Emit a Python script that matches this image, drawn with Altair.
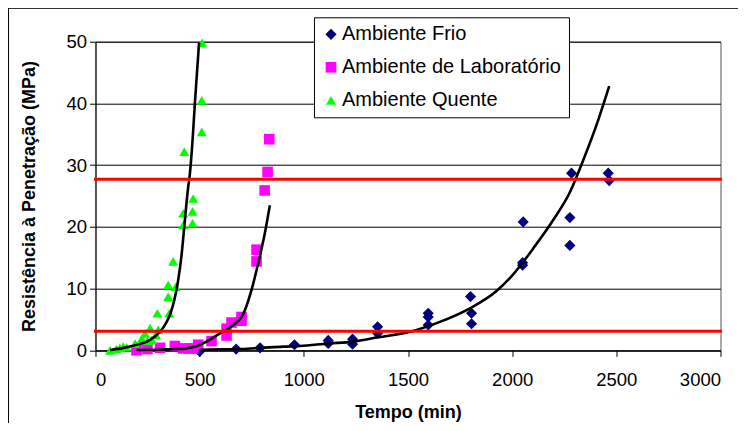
import altair as alt
import pandas as pd

# ---------------- data ----------------
series_names = ["Ambiente Frio", "Ambiente de Laboratório", "Ambiente Quente"]
series_colors = ["#000080", "#FF00FF", "#00FF00"]
series_shapes = ["diamond", "square", "triangle-up"]

frio_t = [500, 675, 790, 955, 1117, 1117, 1234, 1234, 1354, 1354, 1597, 1597, 1597,
          1800, 1805, 1805, 2050, 2050, 2053, 2277, 2277, 2285, 2461, 2466]
frio_r = [-0.2, 0.2, 0.4, 0.9, 1.1, 1.6, 1.0, 1.8, 2.75, 3.8, 4.1, 5.4, 6.0,
          8.7, 6.0, 4.3, 13.8, 14.2, 20.8, 17.0, 21.5, 28.7, 28.7, 27.5]

lab_t = [197, 249, 310, 381, 421, 453, 469, 493, 557, 629, 629, 653, 701, 701,
         773, 773, 812, 826, 834]
lab_r = [0.0, 0.2, 0.4, 0.7, 0.3, 0.3, 0.3, 0.9, 1.5, 2.4, 3.5, 4.5, 4.8, 5.4,
         14.4, 16.3, 25.9, 28.9, 34.2]

quente_t = [70, 100, 117, 133, 150, 190, 222, 238, 250, 262, 270, 290, 301, 297,
            354, 349, 349, 385, 373, 421, 421, 466, 466, 469, 426, 510, 510, 512]
quente_r = [0.0, 0.2, 0.4, 0.6, 0.5, 1.1, 1.9, 2.75, 1.5, 3.6, 1.7, 2.5, 3.3, 6.0,
            6.0, 8.7, 10.6, 10.3, 14.4, 20.3, 22.2, 20.6, 22.5, 24.6, 32.2, 35.4, 40.5, 49.8]

# trend curves (black)
frio_curve_t = [500, 600, 700, 800, 900, 981, 1117, 1237, 1357, 1509, 1653, 1797,
                1925, 2005, 2101, 2197, 2277, 2341, 2413, 2466]
frio_curve_r = [0.1, 0.15, 0.2, 0.4, 0.6, 0.7, 1.1, 1.4, 2.1, 3.0, 4.6, 6.8,
                9.6, 12.3, 16.5, 21.1, 25.6, 30.8, 37.3, 42.8]

lab_curve_t = [197, 300, 400, 421, 450, 486, 533, 597, 661, 701, 717, 749, 781, 813, 837]
lab_curve_r = [0.05, 0.1, 0.2, 0.2, 0.4, 0.7, 1.4, 2.75, 4.1, 5.4, 6.5, 9.8, 14.1, 19.0, 23.5]

quente_curve_t = [70, 130, 166, 210, 246, 280, 310, 340, 360, 378, 397, 414, 429,
                  445, 453, 466, 477, 488, 497]
quente_curve_r = [0.05, 0.35, 0.6, 1.0, 1.4, 2.1, 3.0, 4.5, 6.0, 8.1, 11.4, 15.7, 21.1,
                  26.5, 28.6, 34.1, 40.0, 45.4, 49.8]

# reference levels (red)
ref_levels = [3.1, 27.7]

x_ticks = [0, 500, 1000, 1500, 2000, 2500, 3000]
y_ticks = [0, 10, 20, 30, 40, 50]

# ---------------- tables ----------------
pts = pd.concat([
    pd.DataFrame({"t": frio_t, "r": frio_r, "s": series_names[0]}),
    pd.DataFrame({"t": lab_t, "r": lab_r, "s": series_names[1]}),
    pd.DataFrame({"t": quente_t, "r": quente_r, "s": series_names[2]}),
], ignore_index=True)

curves = pd.concat([
    pd.DataFrame({"t": frio_curve_t, "r": frio_curve_r, "c": "frio"}),
    pd.DataFrame({"t": lab_curve_t, "r": lab_curve_r, "c": "lab"}),
    pd.DataFrame({"t": quente_curve_t, "r": quente_curve_r, "c": "quente"}),
], ignore_index=True)

refs = pd.DataFrame({"r": ref_levels, "t0": [0] * len(ref_levels), "t1": [3000] * len(ref_levels)})

W, H = 625, 308.6

x_scale = alt.Scale(domain=[0, 3000], nice=False)
y_scale = alt.Scale(domain=[0, 50], nice=False)

legend = alt.Legend(
    title=None, orient="none", legendX=218.5, legendY=-24.4,
    labelFontSize=20, labelFont="Liberation Sans", labelColor="#000", labelLimit=500,
    symbolSize=75, symbolStrokeWidth=0, padding=7, rowPadding=13,
    labelOffset=1, symbolOffset=0,
    strokeColor="#000", fillColor="#ffffff",
)

points = alt.Chart(pts).mark_point(filled=True, opacity=1).encode(
    x=alt.X("t:Q", scale=x_scale,
            axis=alt.Axis(values=x_ticks, format="d", title="Tempo (min)", grid=False,
                          labelPadding=14, titleY=62.7, titleBaseline="middle")),
    y=alt.Y("r:Q", scale=y_scale,
            axis=alt.Axis(values=y_ticks, format="d", title="Resistência à Penetração (MPa)", grid=True,
                          labelPadding=3, titleX=-65.5, titleBaseline="middle")),
    color=alt.Color("s:N", scale=alt.Scale(domain=series_names, range=series_colors), legend=legend),
    shape=alt.Shape("s:N", scale=alt.Scale(domain=series_names, range=series_shapes), legend=legend),
    size=alt.Size("s:N", scale=alt.Scale(domain=series_names, range=[125, 100, 170]), legend=None),
)

lines = alt.Chart(curves).mark_line(color="#000000", strokeWidth=2.6, interpolate="monotone").encode(
    x=alt.X("t:Q", scale=x_scale),
    y=alt.Y("r:Q", scale=y_scale),
    detail="c:N",
)

red = alt.Chart(refs).mark_rule(color="#FF0000", strokeWidth=3, strokeCap="square").encode(
    x=alt.X("t0:Q", scale=x_scale),
    x2="t1:Q",
    y=alt.Y("r:Q", scale=y_scale),
)

frame_df = pd.DataFrame({"k": [0]})
top_border = alt.Chart(frame_df).mark_rule(color="#000", strokeWidth=1).encode(
    x=alt.value(-87.5), x2=alt.value(700), y=alt.value(-33.4))
left_border = alt.Chart(frame_df).mark_rule(color="#000", strokeWidth=1).encode(
    x=alt.value(-87.0), y=alt.value(-33.4), y2=alt.value(420))

chart = alt.layer(points, lines, red, top_border, left_border).properties(
    width=W, height=H,
    autosize=alt.AutoSizeParams(type="none"),
    padding={"left": 87.5, "top": 33.7, "right": 17.3, "bottom": 72.7},
).configure(
    font="Liberation Sans",
).configure_axis(
    labelFont="Liberation Sans", labelFontSize=18.5, labelColor="#000",
    titleFont="Liberation Sans", titleFontSize=18, titleFontWeight="bold", titleColor="#000",
    domainColor="#000", domainWidth=1, tickColor="#000", tickSize=6, tickWidth=1,
    gridColor="#000", gridWidth=1,
).configure_view(
    stroke="#555", strokeWidth=1,
)

chart.save("out.html", embed_options={"renderer": "svg", "actions": False})
